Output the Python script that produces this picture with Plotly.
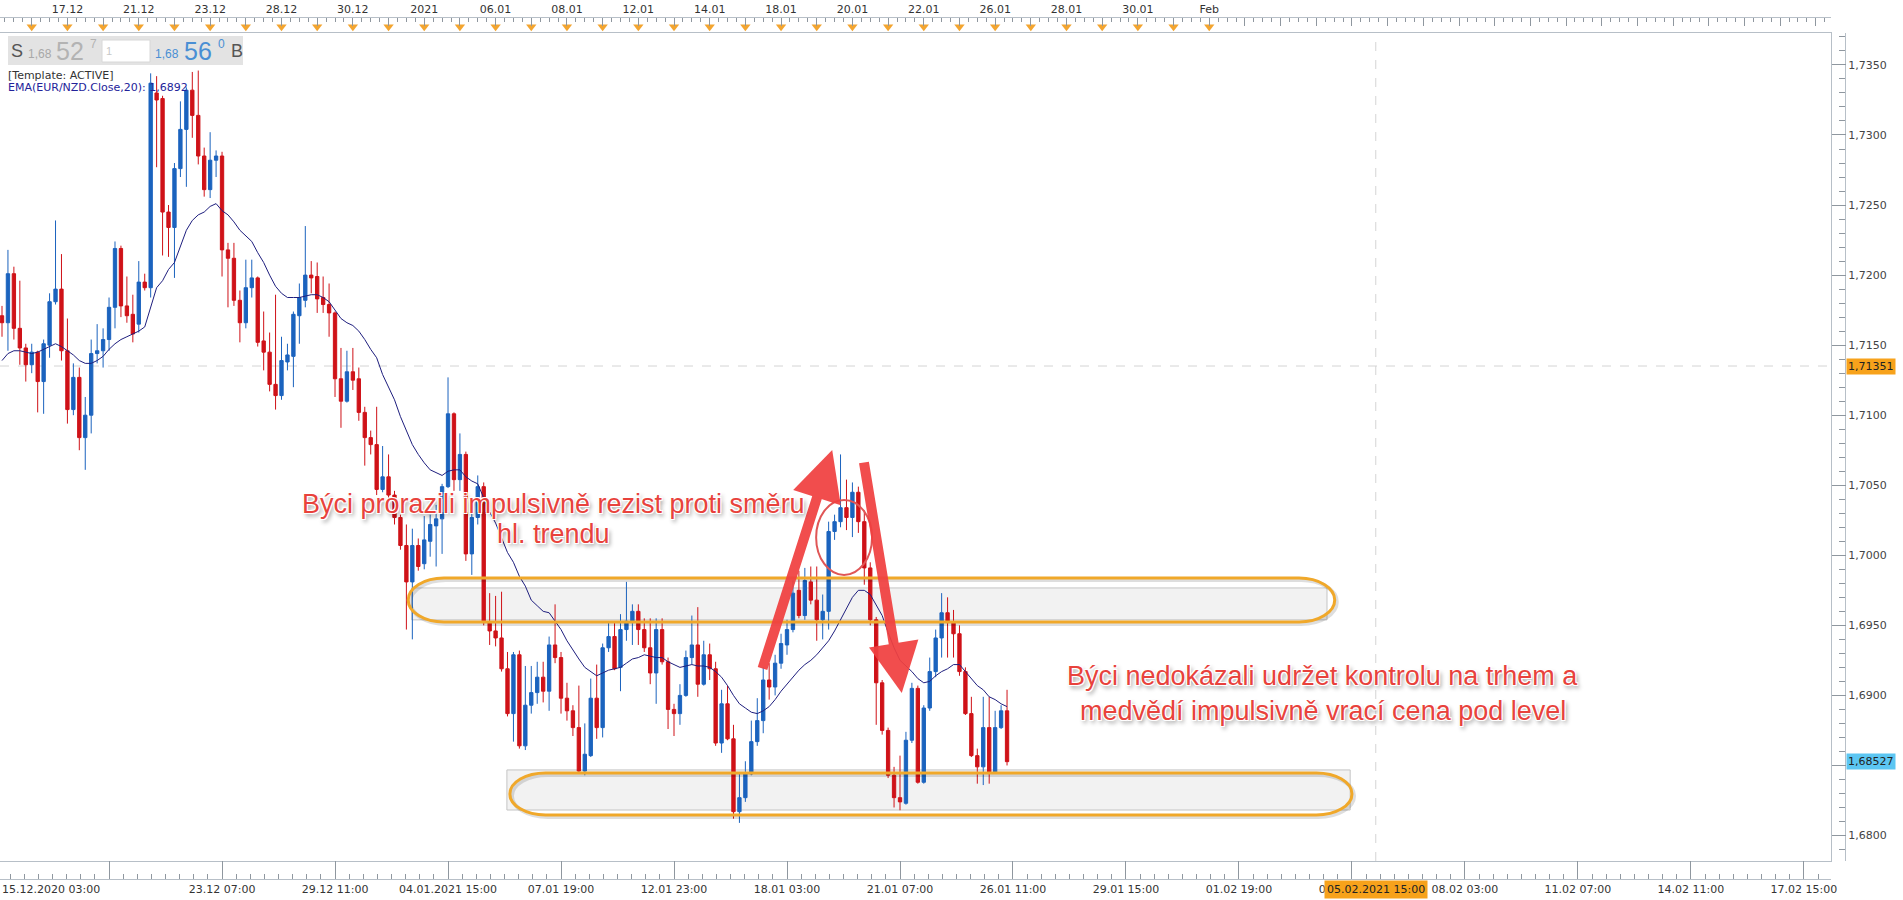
import plotly.graph_objects as go

# ---------------- data (EUR/NZD, 4H candles) ----------------
open_ = [
1.7171, 1.7166, 1.7201, 1.7162, 1.7148, 1.7136, 1.7145, 1.7124, 1.7150, 1.7181,
1.7190, 1.7146, 1.7104, 1.7127, 1.7084, 1.7100, 1.7144, 1.7146, 1.7154, 1.7177,
1.7219, 1.7178, 1.7172, 1.7165, 1.7195, 1.7191, 1.7330, 1.7326, 1.7245, 1.7234,
1.7276, 1.7304, 1.7332, 1.7314, 1.7285, 1.7261, 1.7282, 1.7285, 1.7218, 1.7212,
1.7182, 1.7166, 1.7191, 1.7198, 1.7153, 1.7145, 1.7122, 1.7114, 1.7138, 1.7142,
1.7171, 1.7182, 1.7200, 1.7199, 1.7184, 1.7179, 1.7173, 1.7126, 1.7110, 1.7131,
1.7126, 1.7102, 1.7084, 1.7079, 1.7047, 1.7056, 1.7043, 1.7027, 1.7007, 1.6981,
1.7007, 1.6994, 1.7010, 1.7021, 1.7026, 1.7049, 1.7101, 1.7054, 1.7072, 1.7001,
1.7027, 1.7049, 1.6952, 1.6946, 1.6941, 1.6919, 1.6887, 1.6929, 1.6864, 1.6893,
1.6902, 1.6913, 1.6903, 1.6936, 1.6927, 1.6898, 1.6889, 1.6877, 1.6846, 1.6857,
1.6898, 1.6877, 1.6934, 1.6942, 1.6920, 1.6947, 1.6952, 1.6960, 1.6947, 1.6934,
1.6916, 1.6947, 1.6924, 1.6890, 1.6887, 1.6900, 1.6927, 1.6936, 1.6908, 1.6929,
1.6919, 1.6866, 1.6894, 1.6869, 1.6817, 1.6827, 1.6844, 1.6867, 1.6882, 1.6911,
1.6906, 1.6923, 1.6936, 1.6947, 1.6975, 1.6957, 1.6981, 1.6968, 1.6954, 1.6960,
1.7017, 1.7024, 1.7034, 1.7027, 1.7045, 1.7024, 1.6991, 1.6954, 1.6909, 1.6875,
1.6843, 1.6827, 1.6823, 1.6868, 1.6905, 1.6838, 1.6891, 1.6917, 1.6941, 1.6959,
1.6952, 1.6944, 1.6917, 1.6887, 1.6857, 1.6849, 1.6877, 1.6845, 1.6877, 1.6889]

high = [
1.7178, 1.7218, 1.7206, 1.7196, 1.7151, 1.7151, 1.7146, 1.7154, 1.7187, 1.7239,
1.7215, 1.7169, 1.7137, 1.7134, 1.7113, 1.7154, 1.7165, 1.7162, 1.7184, 1.7224,
1.7221, 1.7199, 1.7186, 1.7210, 1.7201, 1.7344, 1.7342, 1.7328, 1.7250, 1.7280,
1.7324, 1.7334, 1.7345, 1.7346, 1.7291, 1.7302, 1.7289, 1.7288, 1.7223, 1.7223,
1.7189, 1.7211, 1.7211, 1.7199, 1.7174, 1.7159, 1.7186, 1.7156, 1.7151, 1.7174,
1.7194, 1.7235, 1.7210, 1.7209, 1.7199, 1.7194, 1.7174, 1.7148, 1.7146, 1.7148,
1.7134, 1.7106, 1.7089, 1.7106, 1.7078, 1.7072, 1.7046, 1.7029, 1.7022, 1.7019,
1.7012, 1.7028, 1.7029, 1.7036, 1.7051, 1.7127, 1.7102, 1.7087, 1.7074, 1.7031,
1.7057, 1.7052, 1.6973, 1.6971, 1.6974, 1.6931, 1.6931, 1.6932, 1.6921, 1.6921,
1.6924, 1.6924, 1.6942, 1.6965, 1.6931, 1.6909, 1.6893, 1.6907, 1.6880, 1.6912,
1.6922, 1.6937, 1.6952, 1.6952, 1.6958, 1.6981, 1.6965, 1.6965, 1.6955, 1.6955,
1.6955, 1.6955, 1.6927, 1.6894, 1.6908, 1.6932, 1.6957, 1.6963, 1.6939, 1.6937,
1.6924, 1.6904, 1.6907, 1.6879, 1.6844, 1.6853, 1.6882, 1.6898, 1.6920, 1.6923,
1.6929, 1.6944, 1.6954, 1.6982, 1.6989, 1.6991, 1.6992, 1.6992, 1.6972, 1.7024,
1.7029, 1.7072, 1.7054, 1.7052, 1.7049, 1.7032, 1.6995, 1.6956, 1.6911, 1.6877,
1.6849, 1.6857, 1.6874, 1.6909, 1.6907, 1.6893, 1.6927, 1.6947, 1.6973, 1.6970,
1.6961, 1.6950, 1.6920, 1.6899, 1.6862, 1.6899, 1.6899, 1.6889, 1.6893, 1.6904]

low = [
1.7156, 1.7146, 1.7154, 1.7136, 1.7124, 1.7130, 1.7102, 1.7101, 1.7141, 1.7179,
1.7139, 1.7094, 1.7100, 1.7075, 1.7061, 1.7087, 1.7137, 1.7134, 1.7146, 1.7162,
1.7170, 1.7166, 1.7152, 1.7159, 1.7189, 1.7184, 1.7277, 1.7214, 1.7213, 1.7198,
1.7270, 1.7263, 1.7298, 1.7279, 1.7256, 1.7255, 1.7270, 1.7199, 1.7177, 1.7178,
1.7152, 1.7162, 1.7184, 1.7149, 1.7132, 1.7117, 1.7104, 1.7111, 1.7132, 1.7120,
1.7151, 1.7177, 1.7187, 1.7173, 1.7173, 1.7156, 1.7113, 1.7091, 1.7109, 1.7118,
1.7096, 1.7064, 1.7072, 1.7043, 1.7045, 1.7039, 1.7022, 1.7004, 1.6947, 1.6940,
1.6989, 1.6990, 1.6999, 1.6992, 1.7001, 1.7048, 1.7046, 1.7046, 1.6996, 1.6986,
1.7022, 1.6950, 1.6936, 1.6935, 1.6917, 1.6885, 1.6867, 1.6862, 1.6861, 1.6887,
1.6894, 1.6895, 1.6889, 1.6923, 1.6887, 1.6882, 1.6871, 1.6844, 1.6843, 1.6856,
1.6869, 1.6870, 1.6931, 1.6918, 1.6903, 1.6939, 1.6936, 1.6936, 1.6931, 1.6908,
1.6894, 1.6922, 1.6876, 1.6871, 1.6879, 1.6899, 1.6922, 1.6899, 1.6907, 1.6911,
1.6864, 1.6859, 1.6868, 1.6812, 1.6809, 1.6824, 1.6843, 1.6864, 1.6873, 1.6897,
1.6900, 1.6919, 1.6929, 1.6945, 1.6955, 1.6954, 1.6965, 1.6939, 1.6940, 1.6947,
1.7011, 1.7020, 1.7018, 1.7013, 1.7016, 1.6979, 1.6950, 1.6879, 1.6872, 1.6841,
1.6820, 1.6818, 1.6822, 1.6866, 1.6837, 1.6837, 1.6889, 1.6913, 1.6927, 1.6927,
1.6927, 1.6914, 1.6886, 1.6856, 1.6837, 1.6836, 1.6837, 1.6844, 1.6876, 1.6850]

close = [
1.7166, 1.7201, 1.7162, 1.7148, 1.7136, 1.7145, 1.7124, 1.7151, 1.7181, 1.7190,
1.7146, 1.7104, 1.7127, 1.7084, 1.7100, 1.7144, 1.7146, 1.7154, 1.7177, 1.7219,
1.7178, 1.7171, 1.7158, 1.7195, 1.7191, 1.7337, 1.7325, 1.7245, 1.7234, 1.7276,
1.7304, 1.7332, 1.7314, 1.7285, 1.7261, 1.7282, 1.7285, 1.7218, 1.7212, 1.7182,
1.7166, 1.7191, 1.7198, 1.7152, 1.7145, 1.7122, 1.7114, 1.7139, 1.7143, 1.7172,
1.7184, 1.7200, 1.7198, 1.7183, 1.7179, 1.7173, 1.7126, 1.7110, 1.7131, 1.7125,
1.7102, 1.7084, 1.7079, 1.7047, 1.7056, 1.7043, 1.7027, 1.7007, 1.6981, 1.7007,
1.6992, 1.7011, 1.7022, 1.7026, 1.7049, 1.7101, 1.7054, 1.7072, 1.7001, 1.7027,
1.7049, 1.6952, 1.6946, 1.6941, 1.6919, 1.6887, 1.6929, 1.6864, 1.6893, 1.6902,
1.6913, 1.6903, 1.6936, 1.6927, 1.6898, 1.6889, 1.6877, 1.6846, 1.6858, 1.6898,
1.6877, 1.6934, 1.6942, 1.6919, 1.6947, 1.6953, 1.6960, 1.6947, 1.6934, 1.6916,
1.6947, 1.6924, 1.6890, 1.6887, 1.6900, 1.6927, 1.6936, 1.6908, 1.6929, 1.6919,
1.6866, 1.6894, 1.6869, 1.6817, 1.6827, 1.6844, 1.6867, 1.6882, 1.6911, 1.6906,
1.6923, 1.6937, 1.6947, 1.6973, 1.6957, 1.6982, 1.6968, 1.6954, 1.6960, 1.7017,
1.7024, 1.7034, 1.7027, 1.7045, 1.7024, 1.6991, 1.6954, 1.6909, 1.6875, 1.6843,
1.6827, 1.6824, 1.6868, 1.6905, 1.6838, 1.6891, 1.6917, 1.6941, 1.6959, 1.6952,
1.6944, 1.6917, 1.6887, 1.6857, 1.6849, 1.6877, 1.6845, 1.6877, 1.6889, 1.68527]

ema20 = [
1.7139, 1.7144, 1.7146, 1.7146, 1.7145, 1.7144, 1.7145, 1.7147, 1.7149, 1.7151,
1.7149, 1.7146, 1.7143, 1.7139, 1.7137, 1.7137, 1.7139, 1.7142, 1.7147, 1.7151,
1.7154, 1.7156, 1.7158, 1.7160, 1.7163, 1.7177, 1.7191, 1.7196, 1.7204, 1.7209,
1.7220, 1.7232, 1.7239, 1.7243, 1.7245, 1.7249, 1.7251, 1.7246, 1.7243, 1.7238,
1.7232, 1.7228, 1.7224, 1.7216, 1.7209, 1.7200, 1.7192, 1.7187, 1.7184, 1.7184,
1.7184, 1.7185, 1.7186, 1.7186, 1.7184, 1.7181, 1.7175, 1.7169, 1.7166, 1.7164,
1.7160, 1.7154, 1.7147, 1.7141, 1.7129, 1.7120, 1.7111, 1.7099, 1.7089, 1.7079,
1.7072, 1.7066, 1.7061, 1.7059, 1.7057, 1.7060, 1.7061, 1.7061, 1.7056, 1.7053,
1.7051, 1.7041, 1.7031, 1.7023, 1.7013, 1.7002, 1.6995, 1.6985, 1.6978, 1.6968,
1.6964, 1.6960, 1.6959, 1.6953, 1.6947, 1.6939, 1.6932, 1.6926, 1.6920, 1.6917,
1.6914, 1.6916, 1.6918, 1.6919, 1.6920, 1.6923, 1.6926, 1.6927, 1.6929, 1.6928,
1.6927, 1.6927, 1.6924, 1.6922, 1.6920, 1.6921, 1.6922, 1.6921, 1.6921, 1.6920,
1.6917, 1.6913, 1.6907, 1.6900, 1.6894, 1.6891, 1.6888, 1.6887, 1.6889, 1.6892,
1.6897, 1.6903, 1.6908, 1.6913, 1.6918, 1.6922, 1.6925, 1.6929, 1.6934, 1.6939,
1.6946, 1.6954, 1.6962, 1.6970, 1.6975, 1.6975, 1.6972, 1.6964, 1.6957, 1.6945,
1.6934, 1.6925, 1.6921, 1.6917, 1.6912, 1.6909, 1.6910, 1.6914, 1.6917, 1.6919,
1.6922, 1.6922, 1.6917, 1.6912, 1.6907, 1.6904, 1.6899, 1.6897, 1.6894, 1.6892]

# bottom time axis (bar index -> label)
first_bar_label = "15.12.2020 03:00"
bottom_tick_bars = [18, 37, 56, 75, 94, 113, 132, 151, 170, 189, 208, 227, 246, 265, 284, 303]
bottom_tick_text = ["", "23.12 07:00", "29.12 11:00", "04.01.2021 15:00", "07.01 19:00",
                    "12.01 23:00", "18.01 03:00", "21.01 07:00", "26.01 11:00", "29.01 15:00",
                    "01.02 19:00", "04.02 23:00", "08.02 03:00", "11.02 07:00", "14.02 11:00",
                    "17.02 15:00"]
# top day ruler
day_start_bars = [5, 11, 17, 23, 29, 35, 41, 47, 53, 59, 65, 71, 77, 83, 89, 95, 101,
                  107, 113, 119, 125, 131, 137, 143, 149, 155, 161, 167, 173, 179, 185,
                  191, 197, 203]
ruler_day_bars = day_start_bars + [209, 215, 221, 227, 233, 239, 245, 251, 257, 263,
                                   269, 275, 281, 287, 293, 299, 305]
top_label_bars = [11, 23, 35, 47, 59, 71, 83, 95, 107, 119, 131, 143, 155, 167, 179, 191, 203]
top_label_text = ["17.12", "21.12", "23.12", "28.12", "30.12", "2021", "06.01", "08.01",
                  "12.01", "14.01", "18.01", "20.01", "22.01", "26.01", "28.01", "30.01", "Feb"]
# price axis
price_ticks = [1.6800, 1.6850, 1.6900, 1.6950, 1.7000, 1.7050, 1.7100, 1.7150,
               1.7200, 1.7250, 1.7300, 1.7350]
price_tick_text = ["1,6800", "", "1,6900", "1,6950", "1,7000", "1,7050", "1,7100",
                   "1,7150", "1,7200", "1,7250", "1,7300", "1,7350"]
crosshair_bar = 231
crosshair_time = "05.02.2021 15:00"
crosshair_price = 1.71351
crosshair_price_text = "1,71351"
last_price_text = "1,68527"
ema_label = "EMA(EUR/NZD.Close,20): 1,6892"

# drawn zones (bar0, bar1, price_low, price_high)
upper_zone_box = (68.9, 222.8, 1.69539, 1.69767)
upper_zone_ring = (68.3, 224.1, 1.69524, 1.69838)
lower_zone_box = (84.9, 226.7, 1.68182, 1.68468)
lower_zone_ring = (85.4, 227.0, 1.68147, 1.68447)
circle_box = (136.9, 146.3, 1.69860, 1.70395)
arrow_up = (127.8, 1.69182, 139.6, 1.70752)     # tail bar, tail price, tip bar, tip price
arrow_down = (144.9, 1.70673, 151.3, 1.69018)
note1_lines = ["Býci prorazili impulsivně rezist proti směru", "hl. trendu"]
note1_bar = 92.7
note1_prices = [1.70367, 1.70152]
note2_lines = ["Býci nedokázali udržet kontrolu na trhem a",
               "medvědí impulsivně vrací cena pod level"]
note2_bar = 222.1
note2_prices = [1.69139, 1.68889]

# ---------------- layout helpers ----------------
W, H = 1903, 900
R = 58
PW = W - R


def px(v):
    return v / PW


def py(v):
    return (H - v) / H


X_RANGE = [-0.336, 307.55]
Y_RANGE = [1.67818, 1.73728]
XDOM = [0, 1831 / PW]
AX = '#b7bfc7'
TICKC = '#8f979f'
BLUE = '#1b63be'
RED = '#cf1218'
ORANGE = '#f0a82a'
FONT = 'DejaVu Sans'
LS = 'Liberation Sans'
NOTE_RED = '#e8423c'

bars = list(range(len(close)))

fig = go.Figure()
fig.add_trace(go.Candlestick(
    x=bars, open=open_, high=high, low=low, close=close,
    increasing=dict(line=dict(color=BLUE, width=1), fillcolor=BLUE),
    decreasing=dict(line=dict(color=RED, width=1), fillcolor=RED),
    hoverinfo='skip', showlegend=False))
fig.add_trace(go.Scatter(x=bars, y=ema20, mode='lines',
                         line=dict(color='#1e1e7e', width=1),
                         hoverinfo='skip', showlegend=False))
fig.add_trace(go.Scatter(x=day_start_bars, y=[0.42] * len(day_start_bars),
                         xaxis='x4', yaxis='y3', mode='markers',
                         marker=dict(symbol='triangle-down', size=9, color='#f3a530',
                                     line=dict(width=0)),
                         cliponaxis=False, hoverinfo='skip', showlegend=False))
fig.add_trace(go.Scatter(x=[None], y=[None], xaxis='x3', yaxis='y',
                         hoverinfo='skip', showlegend=False))
fig.add_trace(go.Scatter(x=[None], y=[None], xaxis='x', yaxis='y2',
                         hoverinfo='skip', showlegend=False))


def stadium(b0, b1, p0, p1, rx):
    k = 0.5523
    ry = (p1 - p0) / 2
    pm = (p0 + p1) / 2
    a, b = b0 + rx, b1 - rx

    def f(x, y):
        return f"{x:.3f},{y:.6f}"
    return (f"M{f(a, p1)} L{f(b, p1)} C{f(b + k * rx, p1)} {f(b1, pm + k * ry)} {f(b1, pm)} "
            f"C{f(b1, pm - k * ry)} {f(b + k * rx, p0)} {f(b, p0)} L{f(a, p0)} "
            f"C{f(a - k * rx, p0)} {f(b0, pm - k * ry)} {f(b0, pm)} "
            f"C{f(b0, pm + k * ry)} {f(a - k * rx, p1)} {f(a, p1)} Z")


shapes = []
# crosshair
shapes.append(dict(type='line', xref='paper', yref='y', x0=0, x1=XDOM[1],
                   y0=crosshair_price, y1=crosshair_price,
                   line=dict(color='#d4d4d4', width=1, dash='dash'), layer='below'))
shapes.append(dict(type='line', xref='x', yref='paper', x0=crosshair_bar, x1=crosshair_bar,
                   y0=py(861), y1=py(33),
                   line=dict(color='#d4d4d4', width=1, dash='dash'), layer='below'))
# zones
for (b0, b1, p0, p1) in (upper_zone_box, lower_zone_box):
    shapes.append(dict(type='rect', xref='x', yref='y', x0=b0, x1=b1, y0=p0, y1=p1,
                       fillcolor='#f2f2f2', line=dict(color='#c4c4c4', width=1),
                       layer='below'))
for (b0, b1, p0, p1) in (upper_zone_ring, lower_zone_ring):
    shapes.append(dict(type='path', xref='x', yref='y',
                       path=stadium(b0 + 0.35, b1 + 0.35, p0 - 0.00015, p1 - 0.00015, 6),
                       line=dict(color='rgba(0,0,0,0.13)', width=4), layer='above'))
    shapes.append(dict(type='path', xref='x', yref='y', path=stadium(b0, b1, p0, p1, 6),
                       line=dict(color=ORANGE, width=3), layer='above'))
# circle
shapes.append(dict(type='circle', xref='x', yref='y', x0=circle_box[0], x1=circle_box[1],
                   y0=circle_box[2], y1=circle_box[3],
                   line=dict(color='#e05656', width=2), layer='above'))
# header box
shapes.append(dict(type='rect', xref='paper', yref='paper', x0=px(8), x1=px(243),
                   y0=py(65), y1=py(36), fillcolor='#e3e3e3', line=dict(width=0),
                   layer='above'))
shapes.append(dict(type='rect', xref='paper', yref='paper', x0=px(102), x1=px(150),
                   y0=py(62), y1=py(40), fillcolor='#ffffff',
                   line=dict(color='#d8d8d8', width=1), layer='above'))

ann = []


def txt(text, x, y, size, color, xanchor='left', yanchor='middle', family=FONT, **kw):
    ann.append(dict(text=text, x=px(x), y=py(y), xref='paper', yref='paper',
                    xanchor=xanchor, yanchor=yanchor, showarrow=False,
                    font=dict(family=family, size=size, color=color), **kw))


txt("S", 9, 51, 18, '#555555', family=LS)
txt("1,68", 26, 54, 12, '#a8a8a8', family=LS)
txt("52", 54, 51, 25, '#b3b3b3', family=LS)
txt("7", 88, 44, 12, '#b3b3b3', family=LS)
txt("1", 104, 51, 11, '#c8c8c8', family=LS)
txt("1,68", 153, 54, 12, '#4a8fd4', family=LS)
txt("56", 182, 51, 25, '#4a8fd4', family=LS)
txt("0", 216, 44, 12, '#4a8fd4', family=LS)
txt("B", 229, 51, 18, '#555555', family=LS)
txt("[Template: ACTIVE]", 6, 75, 11, '#333333')
txt(ema_label, 6, 88, 11, '#23239a')

# first bottom label
ann.append(dict(text=first_bar_label, x=0, xref='x', y=py(889), yref='paper',
                xanchor='left', yanchor='middle', xshift=-2, showarrow=False,
                font=dict(family=FONT, size=11, color='#333333')))
# crosshair time label
ann.append(dict(text=crosshair_time, x=crosshair_bar, xref='x', y=py(889), yref='paper',
                xanchor='center', yanchor='middle', showarrow=False, bgcolor='#f7a21b',
                borderpad=2, font=dict(family=FONT, size=11, color='#222222')))
# price labels
ann.append(dict(text=crosshair_price_text, x=1.0, xref='paper', y=crosshair_price, yref='y',
                xanchor='left', yanchor='middle', xshift=1, showarrow=False,
                bgcolor='#f7a21b', borderpad=1,
                font=dict(family=FONT, size=11, color='#222222')))
ann.append(dict(text=last_price_text, x=1.0, xref='paper', y=close[-1], yref='y',
                xanchor='left', yanchor='middle', xshift=1, showarrow=False,
                bgcolor='#5cc6f2', borderpad=1,
                font=dict(family=FONT, size=11, color='#222222')))
# arrows
for (tb, tp, hb, hp) in (arrow_up, arrow_down):
    ann.append(dict(text='', x=hb, y=hp, ax=tb, ay=tp, xref='x', yref='y',
                    axref='x', ayref='y', showarrow=True, arrowhead=2, arrowsize=1.0,
                    arrowwidth=10, arrowcolor='rgba(240,64,64,0.93)', standoff=0))
# notes
shadow = ("1px 1px 0px #ffffff, -1px -1px 0px #ffffff, 1px -1px 0px #ffffff, "
          "-1px 1px 0px #ffffff, 2px 3px 4px rgba(0,0,0,0.45)")
for lines, xb, prices in ((note1_lines, note1_bar, note1_prices),
                          (note2_lines, note2_bar, note2_prices)):
    for text, yp in zip(lines, prices):
        ann.append(dict(text=text, x=xb, y=yp, xref='x', yref='y', showarrow=False,
                        xanchor='center', yanchor='middle', align='center',
                        font=dict(family=LS, size=27, color=NOTE_RED, shadow=shadow)))

fig.update_layout(
    width=W, height=H, margin=dict(l=0, r=R, t=0, b=0, pad=0),
    paper_bgcolor='white', plot_bgcolor='white', showlegend=False,
    separators=', ', hovermode=False, boxgap=0.2,
    xaxis=dict(domain=XDOM, range=X_RANGE, showgrid=False, zeroline=False,
               showticklabels=False, ticks='', showline=True, linecolor=AX, mirror=True,
               rangeslider=dict(visible=False), fixedrange=True),
    yaxis=dict(domain=[py(861), py(33)], range=Y_RANGE, side='right', showgrid=False,
               zeroline=False, tickmode='array', tickvals=price_ticks,
               ticktext=price_tick_text, ticks='outside', ticklen=14, tickcolor=TICKC,
               showline=True, linecolor=AX, fixedrange=True,
               tickfont=dict(family=FONT, size=11, color='#444444')),
    yaxis2=dict(overlaying='y', anchor='free', position=1.0, side='right',
                range=Y_RANGE, showgrid=False, zeroline=False, showticklabels=False,
                ticks='inside', ticklen=6, tickcolor=TICKC, dtick=0.001, tick0=1.68,
                showline=True, linecolor=AX, fixedrange=True),
    xaxis3=dict(overlaying='x', anchor='free', position=py(879), side='bottom',
                domain=XDOM, range=X_RANGE, showgrid=False, zeroline=False,
                tickmode='array', tickvals=bottom_tick_bars, ticktext=bottom_tick_text,
                ticks='inside', ticklen=18, tickcolor=TICKC, showline=True, linecolor=AX,
                minor=dict(tickmode='linear', tick0=18, dtick=19 / 8, ticklen=5,
                           tickcolor=TICKC, ticks='inside', showgrid=False),
                tickfont=dict(family=FONT, size=11, color='#333333'), fixedrange=True),
    yaxis3=dict(domain=[py(33), py(18)], range=[0, 1], showgrid=False, zeroline=False,
                showticklabels=False, ticks='', showline=False, fixedrange=True),
    xaxis4=dict(anchor='y3', side='top', domain=XDOM, range=X_RANGE, showgrid=False,
                zeroline=False, tickmode='array', tickvals=ruler_day_bars,
                ticktext=[top_label_text[top_label_bars.index(b)] if b in top_label_bars else ""
                          for b in ruler_day_bars],
                ticks='inside', ticklen=8, tickcolor=TICKC, showline=True, linecolor=AX,
                minor=dict(tickmode='linear', tick0=5, dtick=1.5, ticklen=4,
                           tickcolor=TICKC, ticks='inside', showgrid=False),
                tickfont=dict(family=FONT, size=11, color='#333333'), fixedrange=True),
    shapes=shapes, annotations=ann,
)

fig.write_html("out.html", include_plotlyjs=True, full_html=True,
               config=dict(displayModeBar=False, staticPlot=True),
               post_script="document.body.style.margin='0';document.body.style.overflow='hidden';")
